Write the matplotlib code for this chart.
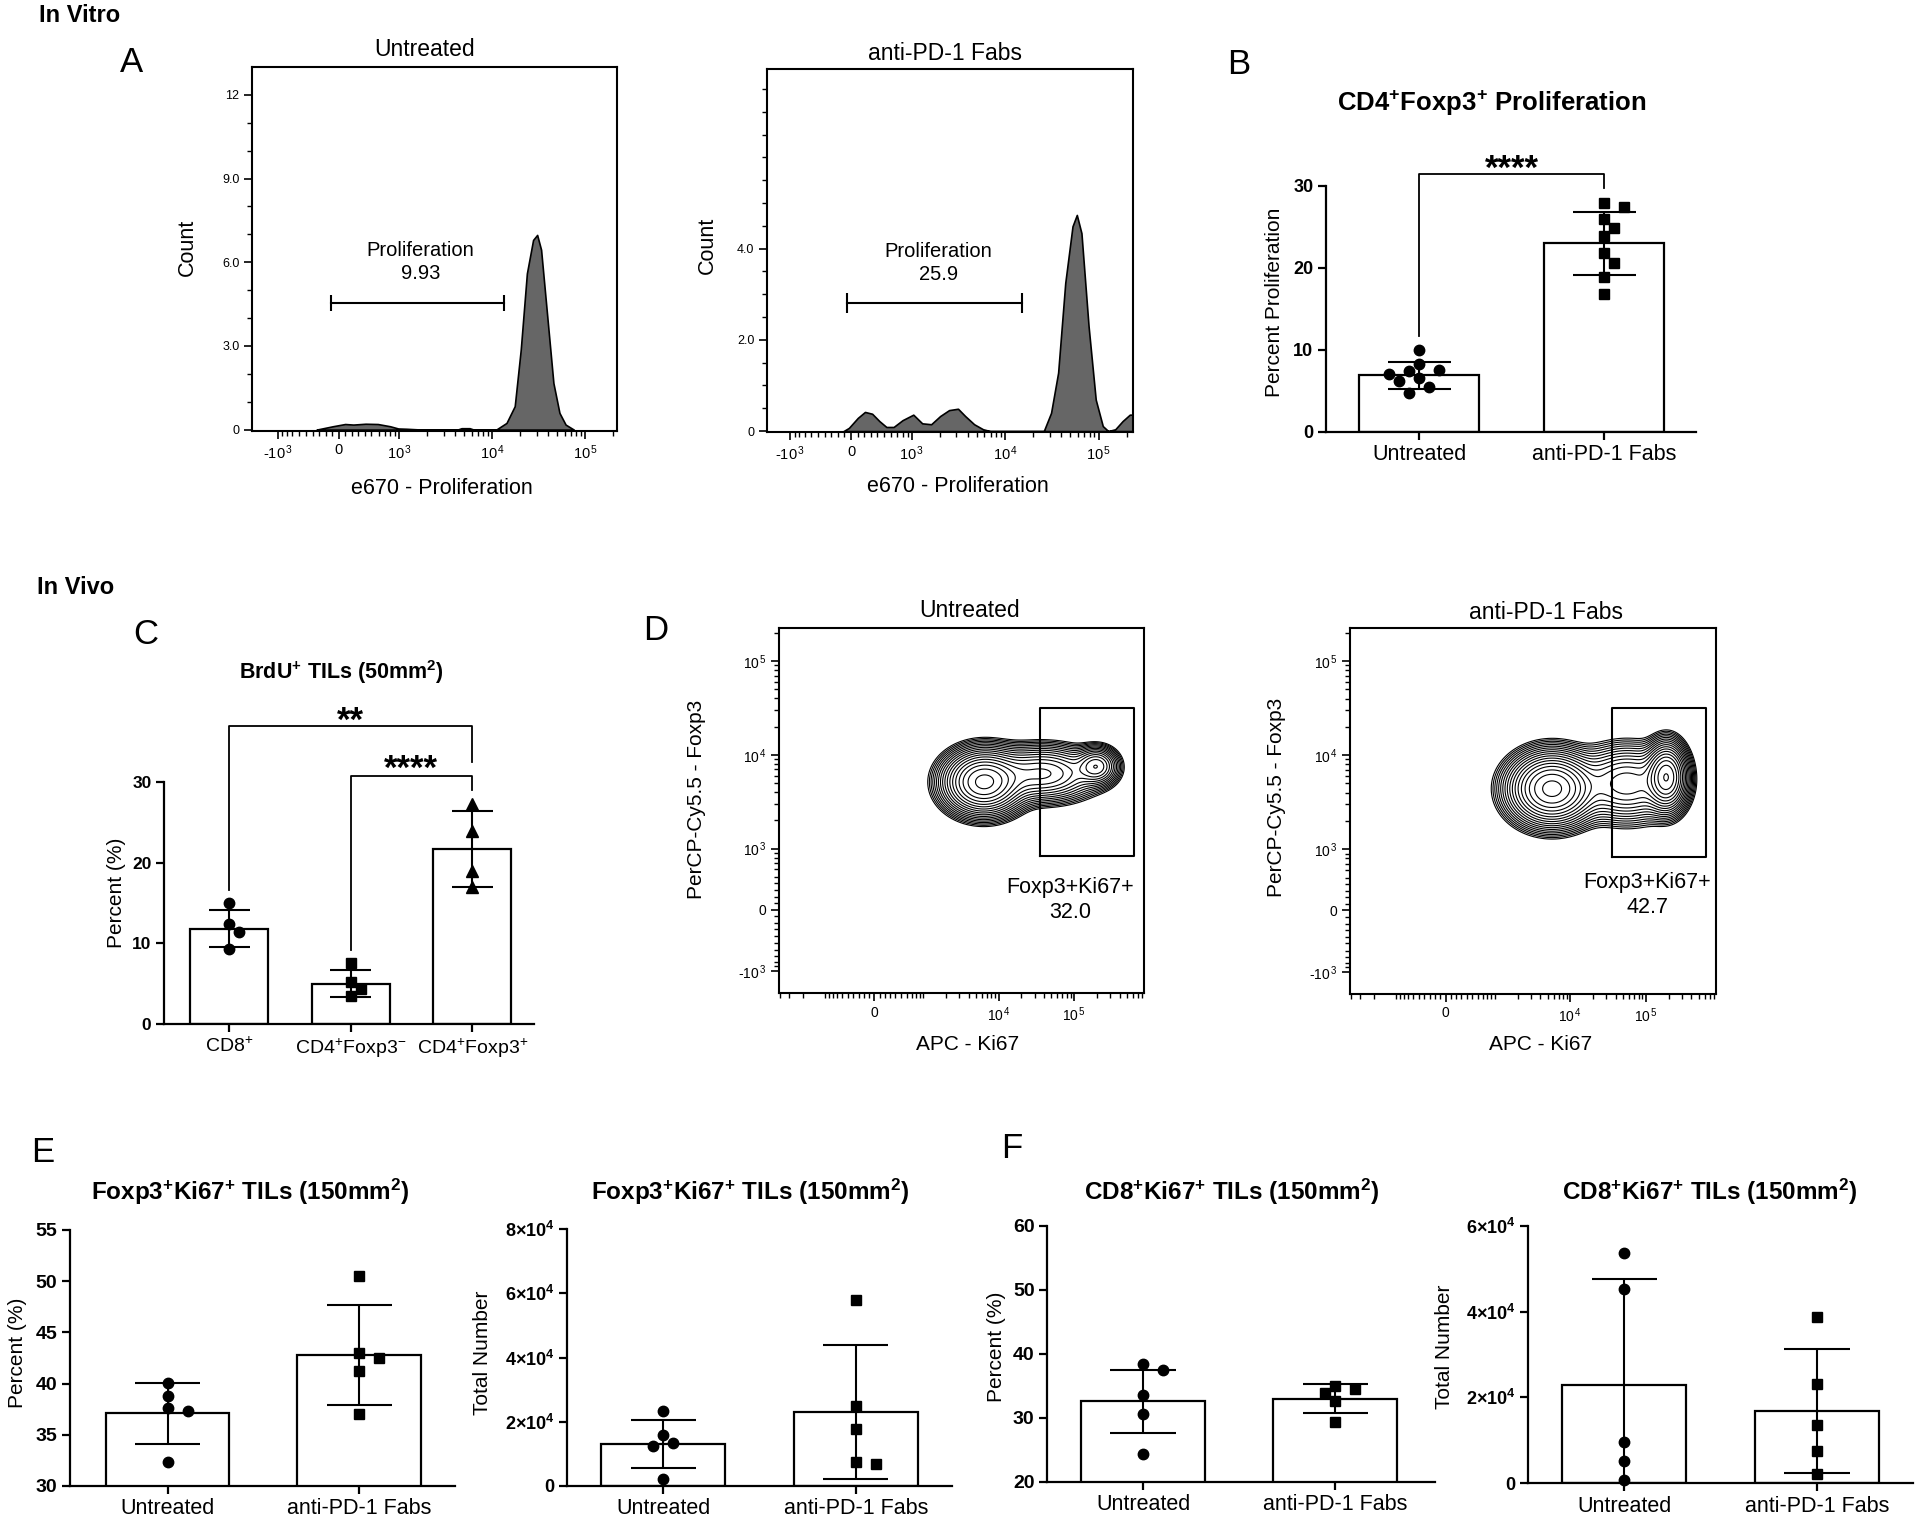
import numpy as np
import matplotlib
matplotlib.use("Agg")
import matplotlib.pyplot as plt
from matplotlib.ticker import FixedLocator

plt.rcParams['font.family'] = ['Liberation Sans', 'DejaVu Sans']
plt.rcParams['mathtext.fontset'] = 'custom'
plt.rcParams['mathtext.rm'] = 'Liberation Sans'
plt.rcParams['mathtext.it'] = 'Liberation Sans:italic'
plt.rcParams['mathtext.bf'] = 'Liberation Sans:bold'
plt.rcParams['mathtext.default'] = 'regular'

# ======================= DATA =======================
# Panel A: e670 proliferation histograms (fluorescence value, count)
a_untreated_x = [-338, -213, -88, 100, 226, 413, 589, 798, 975, 1194, 1774, 4220, 4670, 5710, 6310,
                 11000, 14200, 17400, 20200, 23500, 27400, 30300, 33400, 38900, 45300, 52600, 61200, 75000]
a_untreated_y = [0, 0.06, 0.12, 0.2, 0.18, 0.21, 0.2, 0.12, 0.04, 0.03, 0, 0, 0.05, 0.05, 0,
                 0, 0.24, 0.84, 2.87, 5.6, 6.8, 6.98, 6.45, 4.06, 1.67, 0.6, 0.18, 0]
a_fabs_x = [-115, -33, 104, 213, 323, 433, 534, 638, 796, 1037, 1291, 1611, 2011, 2505, 3124, 3726,
            4650, 5790, 6900, 25900, 31000, 36900, 44000, 52600, 58500, 65600, 78200, 93300, 111000,
            127000, 151000, 181000, 216000, 234000]
a_fabs_y = [0, 0.07, 0.29, 0.42, 0.38, 0.22, 0.09, 0.09, 0.24, 0.36, 0.17, 0.15, 0.33, 0.46, 0.49, 0.33,
            0.15, 0.04, 0, 0, 0.4, 1.28, 3.25, 4.49, 4.74, 4.34, 2.3, 0.69, 0.11,
            0, 0.04, 0.22, 0.36, 0.36]
a_gate_untreated = [-119, 13500]
a_gate_fabs = [-60, 15000]
a_pct = ['9.93', '25.9']

# Panel B
b_groups = ['Untreated', 'anti-PD-1 Fabs']
b_means = [6.9, 23.0]
b_sds = [1.6, 3.85]
b_untreated = [10.0, 8.31, 7.58, 7.38, 7.09, 6.57, 6.16, 5.47, 4.74]
b_fabs = [27.93, 27.44, 25.94, 24.93, 23.92, 21.77, 20.63, 18.85, 16.82]

# Panel C
c_groups = ['CD8$^{+}$', 'CD4$^{+}$Foxp3$^{-}$', 'CD4$^{+}$Foxp3$^{+}$']
c_means = [11.8, 5.0, 21.7]
c_sds = [2.3, 1.7, 4.7]
c_cd8 = [14.96, 12.4, 11.36, 9.26]
c_cd4_neg = [7.52, 5.17, 4.34, 3.47]
c_cd4_pos = [27.27, 23.97, 19.0, 16.94]

# Panel D: gate and density modes (value units; spreads in decades)
d_gate_x = [35100, 623000]
d_gate_y = [826, 31600]
d_pct = ['32.0', '42.7']
d_untreated_cx = [6300, 38000, 199000]
d_untreated_cy = [5120, 6300, 7570]
d_untreated_sx = [0.25, 0.35, 0.14]
d_untreated_sy = [0.16, 0.14, 0.10]
d_untreated_w = [1.0, 0.35, 0.3]
d_fabs_cx = [5700, 56100, 188000]
d_fabs_cy = [4400, 5000, 5870]
d_fabs_sx = [0.27, 0.32, 0.13]
d_fabs_sy = [0.18, 0.19, 0.17]
d_fabs_w = [1.0, 0.3, 0.85]

# Panel E
e_groups = ['Untreated', 'anti-PD-1 Fabs']
e_pct_means = [37.1, 42.8]
e_pct_sds = [2.95, 4.88]
e_pct_untreated = [40.03, 38.79, 37.58, 37.36, 32.31]
e_pct_fabs = [50.5, 42.96, 42.47, 41.26, 37.03]
e_num_means = [1.32e4, 2.3e4]
e_num_sds = [0.75e4, 2.09e4]
e_num_untreated = [2.34e4, 1.58e4, 1.34e4, 1.25e4, 0.23e4]
e_num_fabs = [5.8e4, 2.49e4, 1.78e4, 0.76e4, 0.68e4]

# Panel F
f_pct_means = [32.6, 33.0]
f_pct_sds = [4.9, 2.27]
f_pct_untreated = [38.36, 37.57, 33.66, 30.69, 24.43]
f_pct_fabs = [35.02, 34.6, 33.92, 32.62, 29.39]
f_num_means = [2.28e4, 1.68e4]
f_num_sds = [2.48e4, 1.45e4]
f_num_untreated = [5.36e4, 4.54e4, 0.96e4, 0.51e4, 0.08e4]
f_num_fabs = [3.88e4, 2.32e4, 1.35e4, 0.74e4, 0.22e4]

# ======================= LAYOUT =======================
W, H = 1920, 1528
fig = plt.figure(figsize=(W / 100, H / 100), dpi=100)

RECTS = {
    'A1': (252, 617, 67, 431),
    'A2': (767, 1133, 69, 432),
    'B': (1326, 1696, 186, 432),
    'C': (164, 534, 782, 1024),
    'D1': (779, 1144, 628, 993),
    'D2': (1350, 1716, 628, 994),
    'E1': (70, 455, 1230, 1486),
    'E2': (567, 952, 1229, 1486),
    'F1': (1047, 1435, 1226, 1482),
    'F2': (1528, 1913, 1226, 1483),
}


def add_ax(key):
    x0, x1, yt, yb = RECTS[key]
    return fig.add_axes([x0 / W, 1 - yb / H, (x1 - x0) / W, (yb - yt) / H])


def axc(key, px, py):
    x0, x1, yt, yb = RECTS[key]
    return (px - x0) / (x1 - x0), (yb - py) / (yb - yt)


def figtext(px, py, s, **kw):
    fig.text(px / W, 1 - py / H, s, **kw)


def put_labels(ax, key, title=None, title_px=None, title_kw=None,
               ylabel=None, ylabel_px=None, xlabel=None, xlabel_px=None, label_fs=14):
    if title is not None:
        tx, ty = axc(key, *title_px)
        ax.text(tx, ty, title, transform=ax.transAxes, ha='center', va='center',
                clip_on=False, **(title_kw or {}))
    if ylabel is not None:
        ax.set_ylabel(ylabel, fontsize=label_fs)
        ax.yaxis.set_label_coords(*axc(key, *ylabel_px))
        ax.yaxis.label.set_va('center')
    if xlabel is not None:
        ax.set_xlabel(xlabel, fontsize=label_fs)
        ax.xaxis.set_label_coords(*axc(key, *xlabel_px))
        ax.xaxis.label.set_va('center')


# ---- flow cytometry biexponential-like scale ----
T_LIN, S_LIN = 500.0, 0.35


def fwd(x):
    x = np.asarray(x, dtype=float)
    a = np.abs(x)
    return np.where(a <= T_LIN, S_LIN * x / T_LIN,
                    np.sign(x) * (S_LIN + np.log10(np.maximum(a, T_LIN) / T_LIN)))


def inv(u):
    u = np.asarray(u, dtype=float)
    a = np.abs(u)
    return np.where(a <= S_LIN, u * T_LIN / S_LIN,
                    np.sign(u) * T_LIN * 10 ** (np.maximum(a, S_LIN) - S_LIN))


def flow_minor(lo, hi):
    out = []
    for k in range(2, 6):
        for m in range(1, 10):
            v = m * 10 ** k
            for s in (v, -v):
                if lo < s < hi:
                    out.append(s)
    return sorted(out)


POW = {-1000: '-10$^{\\,3}$', 0: '0', 1000: '10$^{\\,3}$', 10000: '10$^{\\,4}$', 100000: '10$^{\\,5}$'}


def flow_axis(axis, majors, lo, hi):
    axis.set_ticks(majors, [POW[m] for m in majors])
    axis.set_minor_locator(FixedLocator(flow_minor(lo, hi)))


def frame(ax, lw=1.5):
    for sp in ax.spines.values():
        sp.set_linewidth(lw)


# ======================= PANEL A =======================
def hist_panel(key, xs, ys, xdec, ylim, ymaj, ymaj_lbl, ymin, gate, gate_y, cap, pct, txt_xy,
               title, title_px, ylabel_px, xlabel_px):
    ax = add_ax(key)
    ax.set_xscale('function', functions=(fwd, inv))
    lo, hi = float(inv(xdec[0])), float(inv(xdec[1]))
    ax.set_xlim(lo, hi)
    ax.set_ylim(*ylim)
    ax.fill_between(xs, ys, 0, facecolor='#666666', edgecolor='black', linewidth=1.2, zorder=2)
    ax.plot(gate, [gate_y, gate_y], color='black', lw=1.5)
    ax.vlines(gate, gate_y - cap, gate_y + cap, color='black', lw=1.5)
    ax.text(txt_xy[0], txt_xy[1], 'Proliferation\n' + pct, ha='center', va='center',
            fontsize=14.5, linespacing=1.25)
    flow_axis(ax.xaxis, [-1000, 0, 1000, 10000, 100000], lo, hi)
    ax.set_yticks(ymaj, ymaj_lbl)
    ax.yaxis.set_minor_locator(FixedLocator(ymin))
    ax.tick_params(which='major', direction='out', length=6, width=1.2, labelsize=9, pad=3)
    ax.tick_params(which='minor', direction='out', length=3.5, width=1.0)
    ax.tick_params(axis='x', which='major', labelsize=10.5)
    frame(ax)
    put_labels(ax, key, title=title, title_px=title_px, title_kw=dict(fontsize=16.5),
               ylabel='Count', ylabel_px=ylabel_px, xlabel='e670 - Proliferation',
               xlabel_px=xlabel_px, label_fs=15.5)
    return ax


hist_panel('A1', a_untreated_x, a_untreated_y, (-0.93, 2.99), (-0.05, 13.0),
           [0, 3, 6, 9, 12], ['0', '3.0', '6.0', '9.0', '12'],
           [1, 2, 4, 5, 7, 8, 10, 11],
           a_gate_untreated, 4.54, 0.3, a_pct[0], (1700, 6.0),
           'Untreated', (425, 49), (187, 247), (442, 488))

hist_panel('A2', a_fabs_x, a_fabs_y, (-0.90, 3.02), (-0.02, 7.94),
           [0, 2, 4], ['0', '2.0', '4.0'],
           [0.5, 1, 1.5, 2.5, 3, 3.5, 4.5, 5, 5.5, 6, 6.5, 7, 7.5],
           a_gate_fabs, 2.8, 0.22, a_pct[1], (1920, 3.69),
           'anti-PD-1 Fabs', (945, 53), (707, 245), (958, 487))


# ======================= BAR PANELS =======================
def swarm(vals, center, ppx, ppy, diam=12.0, step=10.0):
    placed = []
    xs = [0.0] * len(vals)
    order = np.argsort(vals)[::-1]
    for idx in order:
        v = vals[idx]
        dx = 0.0
        for k in [0, 1, -1, 2, -2, 3, -3, 4, -4]:
            dx = k * step
            if all(np.hypot(dx - px, (v - pv) * ppy) >= diam for px, pv in placed):
                break
        placed.append((dx, v))
        xs[idx] = center + dx / ppx
    return xs


def bar_panel(key, groups, means, sds, point_sets, markers, xlim, ylim, yticks, ylabels,
              ylabel, ylabel_px, title, title_px, title_fs, ytick_fs, xtick_fs, ylabel_fs):
    ax = add_ax(key)
    ax.set_xlim(*xlim)
    ax.set_ylim(*ylim)
    x0, x1, yt, yb = RECTS[key]
    ppx = (x1 - x0) / (xlim[1] - xlim[0])
    ppy = (yb - yt) / (ylim[1] - ylim[0])
    xs = np.arange(len(groups))
    ax.bar(xs, means, width=0.645, color='white', edgecolor='black', linewidth=1.6, zorder=1)
    for i, (m, s) in enumerate(zip(means, sds)):
        ax.vlines(i, m - s, m + s, color='black', lw=1.5, zorder=2)
        ax.hlines([m - s, m + s], i - 0.17, i + 0.17, color='black', lw=1.5, zorder=2)
    for i, (vals, mk) in enumerate(zip(point_sets, markers)):
        msz = {'o': 7.5, 's': 7.0, '^': 8.5}[mk]
        px = swarm(vals, i, ppx, ppy)
        ax.plot(px, vals, ls='none', marker=mk, ms=msz, color='black', zorder=3, clip_on=False)
    for side in ('top', 'right'):
        ax.spines[side].set_visible(False)
    for side in ('left', 'bottom'):
        ax.spines[side].set_linewidth(1.6)
    ax.set_xticks(xs, groups, fontsize=xtick_fs)
    ax.set_yticks(yticks, ylabels, fontsize=ytick_fs, fontweight='bold')
    ax.tick_params(direction='out', length=6, width=1.6, pad=3)
    put_labels(ax, key, title=title, title_px=title_px,
               title_kw=dict(fontsize=title_fs, fontweight='bold'),
               ylabel=ylabel, ylabel_px=ylabel_px, label_fs=ylabel_fs)
    return ax


def bracket(ax, x_left, x_right, y_top, y_left, y_right, stars, star_y, fs):
    ax.plot([x_left, x_left, x_right, x_right], [y_left, y_top, y_top, y_right],
            color='black', lw=1.3, clip_on=False)
    ax.text((x_left + x_right) / 2, star_y, stars, ha='center', va='baseline',
            fontsize=fs, fontweight='bold', clip_on=False)


# ---- B ----
axB = bar_panel('B', b_groups, b_means, b_sds, [b_untreated, b_fabs], ['o', 's'],
                (-0.503, 1.497), (0, 30), [0, 10, 20, 30], ['0', '10', '20', '30'],
                'Percent Proliferation', (1275, 302),
                'CD4$^{+}$Foxp3$^{+}$ Proliferation', (1492, 103), 18.5, 13, 15.5, 15)
bracket(axB, 0, 1, 31.5, 11.7, 29.7, '****', 30.9, 25)

# ---- C ----
axC = bar_panel('C', c_groups, c_means, c_sds, [c_cd8, c_cd4_neg, c_cd4_pos], ['o', 's', '^'],
                (-0.537, 2.509), (0, 30), [0, 10, 20, 30], ['0', '10', '20', '30'],
                'Percent (%)', (117, 893),
                'BrdU$^{+}$ TILs (50mm$^{2}$)', (341, 672), 15.5, 12.5, 14, 15)
bracket(axC, 0, 2, 36.9, 16.6, 32.5, '**', 36.4, 25)
bracket(axC, 1, 2, 30.8, 9.17, 29.0, '****', 30.4, 25)

# ---- E ----
bar_panel('E1', e_groups, e_pct_means, e_pct_sds, [e_pct_untreated, e_pct_fabs], ['o', 's'],
          (-0.509, 1.5), (30, 55), [30, 35, 40, 45, 50, 55],
          ['30', '35', '40', '45', '50', '55'],
          'Percent (%)', (18, 1353),
          'Foxp3$^{+}$Ki67$^{+}$ TILs (150mm$^{2}$)', (250, 1192), 17.5, 14, 15.5, 15)
bar_panel('E2', e_groups, e_num_means, e_num_sds, [e_num_untreated, e_num_fabs], ['o', 's'],
          (-0.5, 1.5), (0, 8e4), [0, 2e4, 4e4, 6e4, 8e4],
          ['0', '2\u00d710$^{4}$', '4\u00d710$^{4}$', '6\u00d710$^{4}$', '8\u00d710$^{4}$'],
          'Total Number', (482, 1353),
          'Foxp3$^{+}$Ki67$^{+}$ TILs (150mm$^{2}$)', (750, 1192), 17.5, 13, 15.5, 15)

# ---- F ----
bar_panel('F1', e_groups, f_pct_means, f_pct_sds, [f_pct_untreated, f_pct_fabs], ['o', 's'],
          (-0.5, 1.518), (20, 60), [20, 30, 40, 50, 60], ['20', '30', '40', '50', '60'],
          'Percent (%)', (996, 1347),
          'CD8$^{+}$Ki67$^{+}$ TILs (150mm$^{2}$)', (1232, 1192), 17.5, 14, 15.5, 15)
bar_panel('F2', e_groups, f_num_means, f_num_sds, [f_num_untreated, f_num_fabs], ['o', 's'],
          (-0.5, 1.498), (0, 6e4), [0, 2e4, 4e4, 6e4],
          ['0', '2\u00d710$^{4}$', '4\u00d710$^{4}$', '6\u00d710$^{4}$'],
          'Total Number', (1445, 1347),
          'CD8$^{+}$Ki67$^{+}$ TILs (150mm$^{2}$)', (1710, 1192), 17.5, 13, 15.5, 15)


# ======================= PANEL D =======================
def contour_panel(key, cx, cy, sx, sy, w, pct, txt_xy, title, title_px, ylabel_px, xlabel_px):
    ax = add_ax(key)
    ax.set_xscale('function', functions=(fwd, inv))
    ax.set_yscale('function', functions=(fwd, inv))
    xdec, ydec = (-1.265, 3.578), (-0.888, 3.003)
    xlo, xhi = float(inv(xdec[0])), float(inv(xdec[1]))
    ylo, yhi = float(inv(ydec[0])), float(inv(ydec[1]))
    ax.set_xlim(xlo, xhi)
    ax.set_ylim(ylo, yhi)
    u = np.linspace(xdec[0], xdec[1], 500)
    v = np.linspace(ydec[0], ydec[1], 500)
    U, V = np.meshgrid(u, v)
    Z = np.zeros_like(U)
    for a, b, c, d, e in zip(cx, cy, sx, sy, w):
        Z += e * np.exp(-0.5 * ((U - fwd(a)) / c) ** 2 - 0.5 * ((V - fwd(b)) / d) ** 2)
    levels = Z.max() * np.geomspace(0.012, 0.9, 18)
    ax.contour(inv(U), inv(V), Z, levels=levels, colors='black', linewidths=0.8)
    gx0, gx1 = d_gate_x
    gy0, gy1 = d_gate_y
    ax.plot([gx0, gx1, gx1, gx0, gx0], [gy0, gy0, gy1, gy1, gy0], color='black', lw=1.5)
    ax.text(txt_xy[0], txt_xy[1], 'Foxp3+Ki67+\n' + pct, ha='center', va='center',
            fontsize=15.5, linespacing=1.25)
    flow_axis(ax.xaxis, [0, 10000, 100000], xlo, xhi)
    flow_axis(ax.yaxis, [-1000, 0, 1000, 10000, 100000], ylo, yhi)
    ax.tick_params(which='major', direction='out', length=6, width=1.2, labelsize=10, pad=3)
    ax.tick_params(which='minor', direction='out', length=3.5, width=1.0)
    frame(ax)
    put_labels(ax, key, title=title, title_px=title_px, title_kw=dict(fontsize=16.5),
               ylabel='PerCP-Cy5.5 - Foxp3', ylabel_px=ylabel_px,
               xlabel='APC - Ki67', xlabel_px=xlabel_px, label_fs=15)


contour_panel('D1', d_untreated_cx, d_untreated_cy, d_untreated_sx, d_untreated_sy, d_untreated_w,
              d_pct[0], (88900, 152), 'Untreated', (970, 610), (697, 799), (968, 1045))
contour_panel('D2', d_fabs_cx, d_fabs_cy, d_fabs_sx, d_fabs_sy, d_fabs_w,
              d_pct[1], (104000, 229), 'anti-PD-1 Fabs', (1546, 613), (1277, 797), (1541, 1045))

# ======================= PANEL LETTERS =======================
figtext(39, 15, 'In Vitro', fontsize=17, fontweight='bold', ha='left', va='center')
figtext(37, 588, 'In Vivo', fontsize=17, fontweight='bold', ha='left', va='center')
for letter, (px, py) in {'A': (131, 63), 'B': (1239, 65), 'C': (146, 635), 'D': (656, 630),
                         'E': (43, 1152), 'F': (1012, 1148)}.items():
    figtext(px, py, letter, fontsize=25, ha='center', va='center')

fig.savefig('out.png', dpi=100)
